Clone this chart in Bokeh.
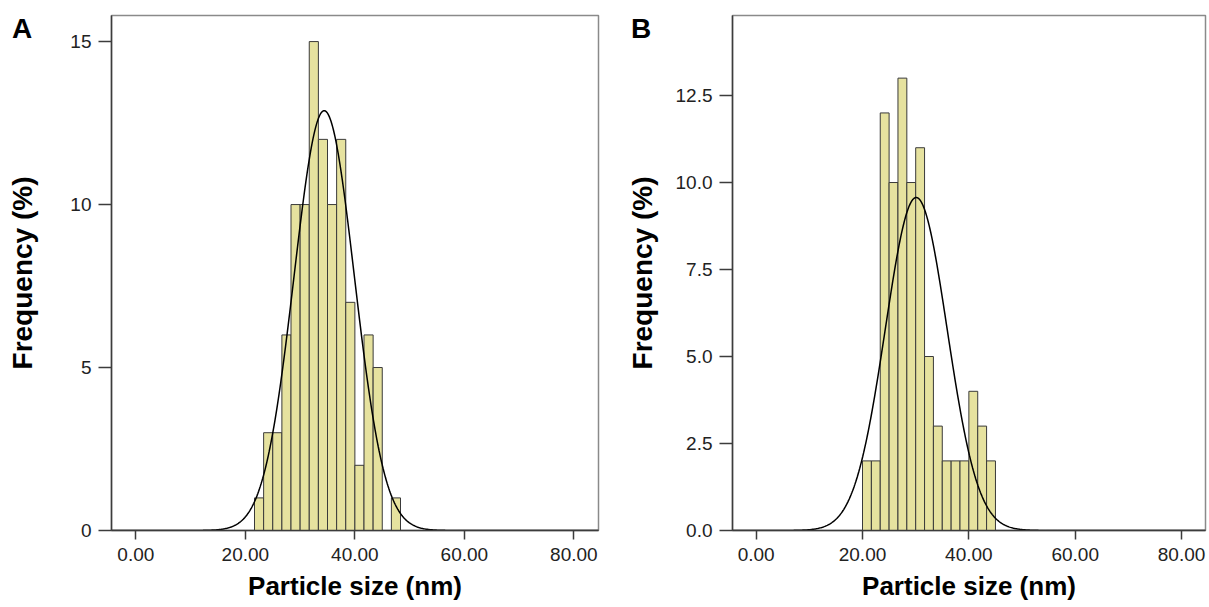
import numpy as np
from bokeh.plotting import figure
from bokeh.layouts import row
from bokeh.models import FixedTicker, NumeralTickFormatter, Range1d, Div
from bokeh.embed import file_html
from bokeh.resources import INLINE

# ---------------- data ----------------
bin_width = 5.0 / 3.0

a_bin_start = 21.67
a_freq = [1, 3, 3, 6, 10, 10, 15, 12, 10, 12, 7, 2, 6, 5, 0, 1]
a_fit_mean = 34.4
a_fit_sd = 5.5
a_fit_peak = 12.88

b_bin_start = 20.0
b_freq = [2, 2, 12, 10, 13, 10, 11, 5, 3, 2, 2, 2, 4, 3, 2]
b_fit_mean = 30.1
b_fit_sd = 5.8
b_fit_peak = 9.57

x_ticks = [0, 20, 40, 60, 80]
a_y_ticks = [0, 5, 10, 15]
b_y_ticks = [0, 2.5, 5.0, 7.5, 10.0, 12.5]

x_label = "Particle size (nm)"
y_label = "Frequency (%)"
panel_letters = ["A", "B"]

FONT = "Liberation Sans"
BAR_FILL = "#E6E29F"
BAR_LINE = "#3a3a3a"
AXIS_COL = "#3c3c3c"
X_MIN, X_MAX = -4.45, 84.5


def panel(bin_start, freq, mean, sd, peak, y_ticks, y_fmt, y_max,
          border_left, frame_w, border_right, y_standoff):
    p = figure(output_backend="svg", toolbar_location=None,
               frame_width=frame_w, frame_height=515,
               min_border_left=border_left, min_border_right=border_right,
               min_border_top=15, min_border_bottom=76,
               x_range=Range1d(X_MIN, X_MAX), y_range=Range1d(0, y_max))
    p.background_fill_color = "white"
    p.border_fill_color = "white"
    p.xgrid.visible = False
    p.ygrid.visible = False
    p.outline_line_color = "#8a8a8a"
    p.outline_line_width = 1.5

    lefts = [bin_start + i * bin_width for i in range(len(freq))]
    rights = [l + bin_width for l in lefts]
    p.quad(left=lefts, right=rights, bottom=0, top=freq,
           fill_color=BAR_FILL, line_color=BAR_LINE, line_width=1)

    xs = np.linspace(X_MIN, X_MAX, 600)
    ys = peak * np.exp(-0.5 * ((xs - mean) / sd) ** 2)
    p.line(xs, ys, line_color="black", line_width=1.5)

    for ax in (p.xaxis[0], p.yaxis[0]):
        ax.axis_line_color = AXIS_COL
        ax.axis_line_width = 1.5
        ax.major_tick_line_color = AXIS_COL
        ax.major_tick_line_width = 1.5
        ax.minor_tick_line_color = None
        ax.major_tick_in = 0
        ax.major_label_text_font = FONT
        ax.major_label_text_font_size = "19px"
        ax.major_label_text_color = "#222222"
        ax.axis_label_text_font = FONT
        ax.axis_label_text_font_style = "bold"
        ax.axis_label_text_color = "black"

    p.xaxis.ticker = FixedTicker(ticks=x_ticks)
    p.xaxis.formatter = NumeralTickFormatter(format="0.00")
    p.xaxis.major_tick_out = 9
    p.xaxis.major_label_standoff = 8
    p.xaxis.axis_label = x_label
    p.xaxis.axis_label_text_font_size = "26px"
    p.xaxis.axis_label_standoff = 7

    p.yaxis.ticker = FixedTicker(ticks=y_ticks)
    p.yaxis.formatter = NumeralTickFormatter(format=y_fmt)
    p.yaxis.major_tick_out = 13
    p.yaxis.major_label_standoff = 7
    p.yaxis.axis_label = y_label
    p.yaxis.axis_label_text_font_size = "28px"
    p.yaxis.axis_label_standoff = y_standoff
    return p


def letter_div(text, left, top):
    return Div(text=text, styles={
        "position": "absolute", "left": f"{left}px", "top": f"{top}px",
        "font-family": FONT, "font-weight": "bold", "font-size": "28px",
        "line-height": "28px", "color": "black", "margin": "0",
        "padding": "0"})


pa = panel(a_bin_start, a_freq, a_fit_mean, a_fit_sd, a_fit_peak,
           a_y_ticks, "0", 15.8, 111, 487, 22, 29)
pb = panel(b_bin_start, b_freq, b_fit_mean, b_fit_sd, b_fit_peak,
           b_y_ticks, "0.0", 14.8, 112, 473, 3, 15)

da = letter_div(panel_letters[0], 12, 15)
db = letter_div(panel_letters[1], 631, 15)

layout = row(pa, pb, da, db)
open("out.html", "w").write(file_html(layout, INLINE))
